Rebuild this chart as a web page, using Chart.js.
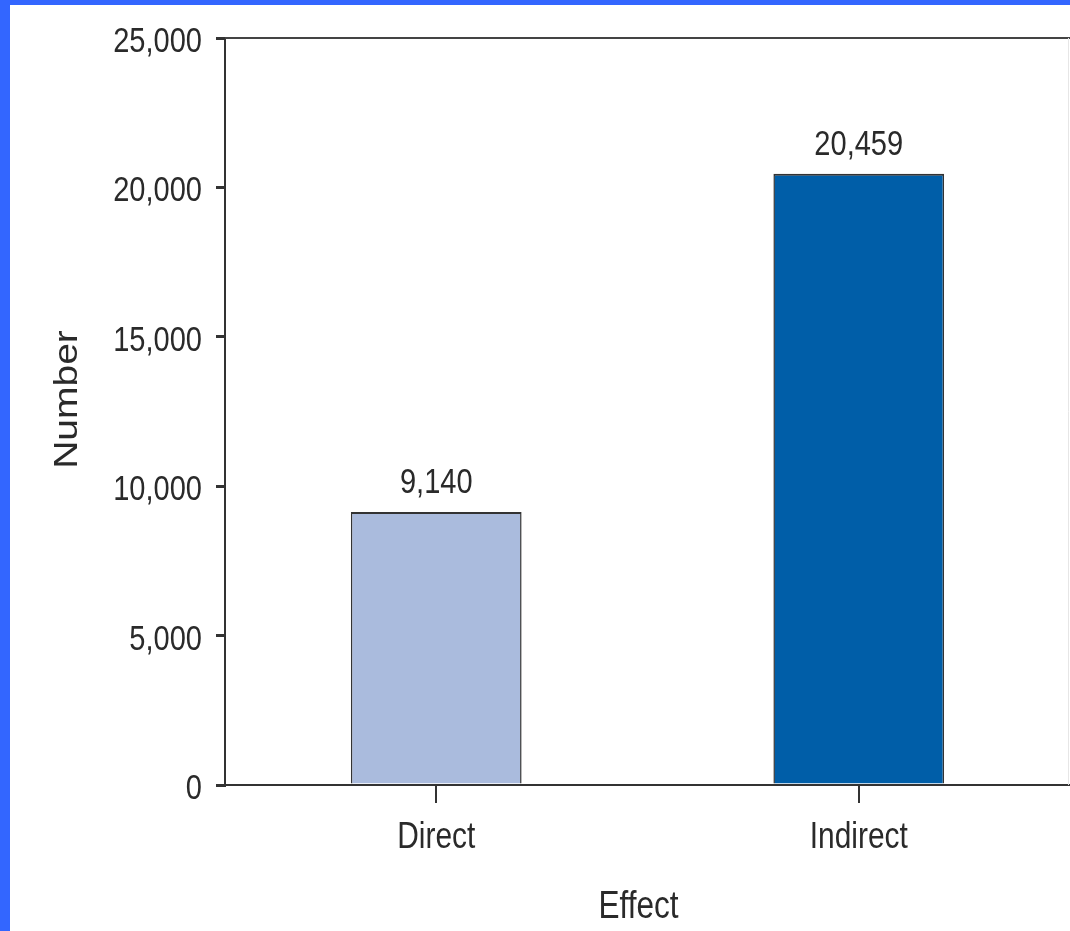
<!DOCTYPE html>
<html>
<head>
<meta charset="utf-8">
<script src="https://cdn.jsdelivr.net/npm/chart.js@4"></script>
<style>
  html, body { margin: 0; padding: 0; background: #3366FF; width: 1070px; height: 931px; overflow: hidden; }
  #wrap { position: absolute; left: 10px; top: 5px; width: 1060px; height: 926px; background: #ffffff; }
  canvas { display: block; }
</style>
</head>
<body>
<div id="wrap"><canvas id="c" width="1060" height="926"></canvas></div>
<script>
const categories = ['Direct', 'Indirect'];
const values = [9140, 20459];
const barColors = ['#AABBDD', '#005EA8'];
const yTicks = [0, 5000, 10000, 15000, 20000, 25000];
const xTitle = 'Effect';
const yTitle = 'Number';

const FONT = "'Liberation Sans', Arial, Helvetica, sans-serif";
const TEXT = '#2a2a2a';
const SQUEEZE = 0.83;   // the source picture is narrowed horizontally
const fmt = v => Number(v).toLocaleString('en-US');

function drawText(ctx, text, x, y, size, align) {
  ctx.save();
  ctx.translate(x, y);
  ctx.scale(SQUEEZE, 1);
  ctx.font = size + 'px ' + FONT;
  ctx.fillStyle = TEXT;
  ctx.textAlign = align;
  ctx.textBaseline = 'alphabetic';
  ctx.fillText(text, 0, 0);
  ctx.restore();
}

const textLayer = {
  id: 'textLayer',
  afterDraw(chart) {
    const {ctx, chartArea} = chart;
    const xs = chart.scales.x, ys = chart.scales.y;

    // top frame line
    ctx.save();
    ctx.strokeStyle = '#444';
    ctx.lineWidth = 2;
    ctx.beginPath();
    ctx.moveTo(chartArea.left, chartArea.top);
    ctx.lineTo(chart.width, chartArea.top);
    ctx.stroke();
    ctx.strokeStyle = '#e6e6e6';
    ctx.lineWidth = 1;
    ctx.beginPath();
    ctx.moveTo(chart.width - 1.5, chartArea.top);
    ctx.lineTo(chart.width - 1.5, chartArea.bottom);
    ctx.stroke();
    ctx.restore();

    // y tick labels
    yTicks.forEach(v => {
      drawText(ctx, fmt(v), ys.right - 23, ys.getPixelForValue(v) + 14, 35, 'right');
    });
    // x tick labels
    categories.forEach((c, i) => {
      drawText(ctx, c, xs.getPixelForTick(i), chartArea.bottom + 63, 36, 'center');
    });
    // value labels
    const meta = chart.getDatasetMeta(0);
    meta.data.forEach((bar, i) => {
      drawText(ctx, fmt(values[i]), bar.x, bar.y - 19, 35, 'center');
    });
    // x title
    drawText(ctx, xTitle, (chartArea.left + chartArea.right) / 2 - 9, chart.height - 13, 38, 'center');
    // y title (rotated)
    ctx.save();
    ctx.translate(67, (chartArea.top + chartArea.bottom) / 2 - 12);
    ctx.rotate(-Math.PI / 2);
    ctx.scale(1, 0.86);
    ctx.font = '39px ' + FONT;
    ctx.fillStyle = TEXT;
    ctx.textAlign = 'center';
    ctx.textBaseline = 'alphabetic';
    ctx.fillText(yTitle, 0, 0);
    ctx.restore();
  }
};

new Chart(document.getElementById('c'), {
  type: 'bar',
  data: {
    labels: categories,
    datasets: [{
      data: values,
      backgroundColor: barColors,
      borderColor: '#333333',
      borderWidth: {top: 2, left: 1.5, right: 1.5, bottom: 0},
      barPercentage: 0.404,
      categoryPercentage: 1.0
    }]
  },
  options: {
    responsive: false,
    animation: false,
    devicePixelRatio: 1,
    layout: { padding: { top: 33, right: 0, bottom: 0, left: 0 } },
    plugins: { legend: { display: false }, tooltip: { enabled: false } },
    scales: {
      x: {
        offset: true,
        grid: { offset: false, drawOnChartArea: false, drawTicks: true, tickLength: 18, color: '#333', lineWidth: 2 },
        border: { display: true, color: '#333', width: 2 },
        ticks: { display: false },
        title: { display: false, text: xTitle },
        afterFit(scale) { scale.height = 146; }
      },
      y: {
        min: 0,
        max: 25000,
        afterBuildTicks(scale) { scale.ticks = yTicks.map(v => ({ value: v })); },
        grid: { drawOnChartArea: false, drawTicks: true, tickLength: 9, color: '#333', lineWidth: 3 },
        border: { display: true, color: '#333', width: 2 },
        ticks: { display: false },
        title: { display: false, text: yTitle },
        afterFit(scale) { scale.width = 215; }
      }
    }
  },
  plugins: [textLayer]
});
</script>
</body>
</html>
